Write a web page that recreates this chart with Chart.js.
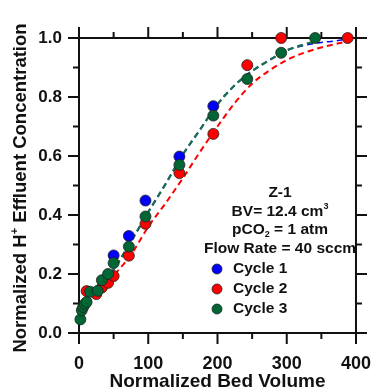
<!DOCTYPE html>
<html>
<head>
<meta charset="utf-8">
<script src="https://cdn.jsdelivr.net/npm/chart.js@4.4.0/dist/chart.umd.min.js"></script>
<style>
  html, body { margin: 0; padding: 0; background: #fff; }
  #wrap { width: 391px; height: 392px; }
</style>
</head>
<body>
<div id="wrap"><canvas id="myChart"></canvas></div>
<script>
// measured points, normalized bed volume vs normalized H+ effluent concentration
const cycle1_bv = [50, 72, 96, 145, 194];
const cycle1_conc = [0.263, 0.329, 0.449, 0.598, 0.769];

const cycle2_bv = [11, 25, 33, 42, 50, 72, 96, 145, 194, 243, 292, 388];
const cycle2_conc = [0.142, 0.132, 0.154, 0.170, 0.193, 0.262, 0.370, 0.542, 0.675, 0.908, 1.0, 1.0];

const cycle3_bv = [2, 4, 6, 8.5, 11, 16, 27, 33, 42, 50, 72, 96, 145, 194, 243, 292, 341];
const cycle3_conc = [0.046, 0.077, 0.088, 0.098, 0.105, 0.140, 0.143, 0.179, 0.200, 0.237, 0.293, 0.395, 0.570, 0.737, 0.861, 0.950, 1.0];

// fitted breakthrough curves
const fit1_bv = [0, 25, 50, 75, 100, 125, 150, 175, 200, 225, 250, 275, 300, 325, 350, 370, 388];
const fit1_conc = [0.07, 0.14, 0.215, 0.31, 0.41, 0.505, 0.605, 0.69, 0.775, 0.84, 0.888, 0.925, 0.958, 0.975, 0.985, 0.99, 0.997];
const fit2_bv = [0, 25, 50, 75, 100, 125, 150, 175, 200, 225, 250, 275, 300, 325, 350, 375, 390];
const fit2_conc = [0.08, 0.135, 0.195, 0.265, 0.36, 0.44, 0.525, 0.615, 0.70, 0.78, 0.845, 0.89, 0.925, 0.95, 0.968, 0.982, 0.99];
const fit3_bv = [0, 25, 50, 75, 100, 125, 150, 175, 200, 225, 250, 275, 300, 325, 340];
const fit3_conc = [0.07, 0.14, 0.215, 0.31, 0.41, 0.505, 0.605, 0.69, 0.775, 0.84, 0.888, 0.925, 0.958, 0.978, 0.987];

const x_major = [0, 100, 200, 300, 400];
const x_minor = [50, 150, 250, 350];
const y_major = [0, 0.2, 0.4, 0.6, 0.8, 1.0];
const y_minor = [0.1, 0.3, 0.5, 0.7, 0.9];

const legend_labels = ['Cycle 1', 'Cycle 2', 'Cycle 3'];
const blue = '#0000ff';
const red = '#ff0000';
const green = '#006633';
const green_line = '#1b6e52';
const FONT = "'Liberation Sans', Arial, sans-serif";

function pts(xs, ys) {
    return xs.map(function (x, i) { return { x: x, y: ys[i] } });
}

function pointSet(label, xs, ys, color, order) {
    return {
        label: label,
        data: pts(xs, ys),
        showLine: false,
        backgroundColor: color,
        borderColor: '#222',
        borderWidth: 0.8,
        pointRadius: 5.5,
        order: order,
        clip: false
    };
}

function fitSet(xs, ys, color, width, order) {
    return {
        data: pts(xs, ys),
        showLine: true,
        borderColor: color,
        borderWidth: width,
        borderDash: [6, 4],
        pointRadius: 0,
        cubicInterpolationMode: 'monotone',
        order: order,
        clip: false
    };
}

// draws text pieces: [text, 'n' | 'sup' | 'sub']
function drawRich(ctx, pieces, x, y, size, align) {
    let widths = pieces.map(function (p) {
        ctx.font = 'bold ' + (p[1] == 'n' ? size : Math.round(size * 0.6)) + 'px ' + FONT;
        return ctx.measureText(p[0]).width;
    });
    let total = widths.reduce(function (a, b) { return a + b }, 0);
    let cx = align == 'center' ? x - total / 2 : x;
    ctx.textAlign = 'left';
    ctx.textBaseline = 'middle';
    pieces.forEach(function (p, i) {
        let dy = 0;
        if (p[1] == 'sup') dy = -size * 0.35;
        if (p[1] == 'sub') dy = size * 0.3;
        ctx.font = 'bold ' + (p[1] == 'n' ? size : Math.round(size * 0.6)) + 'px ' + FONT;
        ctx.fillText(p[0], cx, y + dy);
        cx += widths[i];
    });
}

const framePlugin = {
    id: 'frame',
    beforeDatasetsDraw(chart) {
        const ctx = chart.ctx;
        const a = chart.chartArea;
        const xs = chart.scales.x, ys = chart.scales.y;
        ctx.save();
        ctx.strokeStyle = '#111';
        ctx.lineWidth = 2;
        ctx.strokeRect(a.left, a.top, a.right - a.left, a.bottom - a.top);
        function tick(x1, y1, x2, y2) {
            ctx.beginPath(); ctx.moveTo(x1, y1); ctx.lineTo(x2, y2); ctx.stroke();
        }
        x_major.forEach(function (v) {
            let px = xs.getPixelForValue(v);
            tick(px, a.bottom, px, a.bottom + 11);
            tick(px, a.top, px, a.top - 11);
        });
        x_minor.forEach(function (v) {
            let px = xs.getPixelForValue(v);
            tick(px, a.bottom, px, a.bottom + 6);
            tick(px, a.top, px, a.top - 6);
        });
        y_major.forEach(function (v) {
            let py = ys.getPixelForValue(v);
            tick(a.left, py, a.left - 11, py);
            tick(a.right, py, a.right + 11, py);
        });
        y_minor.forEach(function (v) {
            let py = ys.getPixelForValue(v);
            tick(a.left, py, a.left - 6, py);
            tick(a.right, py, a.right + 6, py);
        });
        ctx.restore();
    },
    afterDraw(chart) {
        const ctx = chart.ctx;
        const a = chart.chartArea;
        ctx.save();
        ctx.fillStyle = '#111';

        // axis titles
        drawRich(ctx, [['Normalized Bed Volume', 'n']], (a.left + a.right) / 2, 382, 19, 'center');

        ctx.save();
        ctx.translate(21, 188);
        ctx.rotate(-Math.PI / 2);
        drawRich(ctx, [['Normalized H', 'n'], ['+', 'sup'], [' Effluent Concentration', 'n']], 0, 0, 18.5, 'center');
        ctx.restore();

        // sample info
        drawRich(ctx, [['Z-1', 'n']], 280, 193, 15.5, 'center');
        drawRich(ctx, [['BV= 12.4 cm', 'n'], ['3', 'sup']], 280, 212, 15.5, 'center');
        drawRich(ctx, [['pCO', 'n'], ['2', 'sub'], [' = 1 atm', 'n']], 280, 230, 15.5, 'center');
        drawRich(ctx, [['Flow Rate = 40 sccm', 'n']], 280, 249, 15.5, 'center');

        // legend
        const colors = [blue, red, green];
        legend_labels.forEach(function (lab, i) {
            let y = 269 + i * 20;
            ctx.beginPath();
            ctx.arc(217, y, 5, 0, Math.PI * 2);
            ctx.fillStyle = colors[i];
            ctx.fill();
            ctx.lineWidth = 0.8;
            ctx.strokeStyle = '#222';
            ctx.stroke();
            ctx.fillStyle = '#111';
            drawRich(ctx, [[lab, 'n']], 233, y, 15.5, 'left');
        });
        ctx.restore();
    }
};

new Chart('myChart', {
    type: 'scatter',
    data: {
        datasets: [
            pointSet('Cycle 3', cycle3_bv, cycle3_conc, green, 0),
            pointSet('Cycle 2', cycle2_bv, cycle2_conc, red, 1),
            pointSet('Cycle 1', cycle1_bv, cycle1_conc, blue, 2),
            fitSet(fit3_bv, fit3_conc, green_line, 2.3, 3),
            fitSet(fit2_bv, fit2_conc, red, 2, 4),
            fitSet(fit1_bv, fit1_conc, blue, 1.6, 5)
        ]
    },
    options: {
        responsive: true,
        maintainAspectRatio: false,
        animation: false,
        layout: { padding: { top: 38, right: 17, left: 0, bottom: 0 } },
        scales: {
            x: {
                type: 'linear',
                min: 0,
                max: 400,
                grid: { display: false, drawTicks: false },
                border: { display: false },
                afterFit: function (scale) { scale.height = 59; },
                ticks: {
                    stepSize: 100,
                    padding: 20,
                    color: '#111',
                    font: { family: FONT, size: 18, weight: 'bold' }
                }
            },
            y: {
                type: 'linear',
                min: 0,
                max: 1.0,
                grid: { display: false, drawTicks: false },
                border: { display: false },
                afterFit: function (scale) { scale.width = 79; },
                ticks: {
                    stepSize: 0.2,
                    padding: 17,
                    color: '#111',
                    font: { family: FONT, size: 17, weight: 'bold' },
                    callback: function (v) { return v.toFixed(1) }
                }
            }
        },
        plugins: {
            legend: { display: false },
            tooltip: { enabled: false }
        }
    },
    plugins: [framePlugin]
});
</script>
</body>
</html>
